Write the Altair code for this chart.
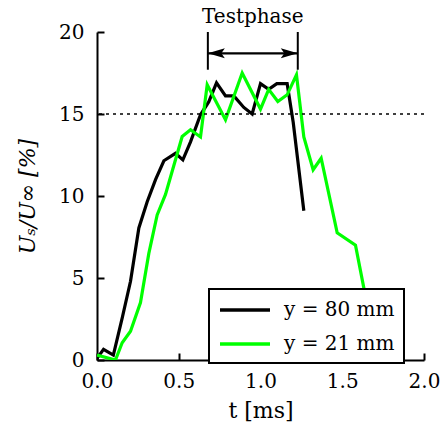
import altair as alt
import pandas as pd

# ---- data ----
black_label = "y = 80 mm"
green_label = "y = 21 mm"

black_t = [0.0, 0.04, 0.10, 0.155, 0.205, 0.256, 0.307, 0.358, 0.409, 0.48, 0.525,
           0.572, 0.633, 0.684, 0.731, 0.786, 0.837, 0.898, 0.949, 1.0, 1.05, 1.10,
           1.163, 1.20, 1.265]
black_u = [0.1, 0.65, 0.3, 2.6, 4.8, 8.05, 9.65, 11.0, 12.15, 12.6, 12.2,
           13.3, 14.95, 15.75, 16.9, 16.1, 16.1, 15.4, 15.0, 16.85, 16.5, 16.85,
           16.85, 14.5, 9.1]

green_t = [0.0, 0.113, 0.154, 0.205, 0.266, 0.317, 0.368, 0.419, 0.521, 0.572,
           0.633, 0.674, 0.786, 0.888, 1.0, 1.05, 1.106, 1.163, 1.22, 1.265,
           1.322, 1.371, 1.469, 1.581, 1.632, 1.68, 1.72]
green_u = [0.3, 0.0, 1.05, 1.75, 3.5, 6.5, 8.85, 10.1, 13.63, 14.04,
           13.6, 16.78, 14.65, 17.5, 15.3, 16.5, 15.76, 16.17, 17.39, 13.6,
           11.6, 12.3, 7.75, 7.0, 4.4, 2.0, 0.5]

x_ticks = [0.0, 0.5, 1.0, 1.5, 2.0]
y_ticks = [0, 5, 10, 15, 20]
ref_level = 15
phase_start = 0.678
phase_end = 1.228
phase_label = "Testphase"
phase_arrow_y = 18.7
phase_bar_low = 17.7
phase_bar_high = 20.0
phase_text_y = 20.9

# ---- tables ----
rows = []
for t, u in zip(black_t, black_u):
    rows.append({"t": t, "u": u, "series": black_label})
for t, u in zip(green_t, green_u):
    rows.append({"t": t, "u": u, "series": green_label})
df = pd.DataFrame(rows)

W, H = 327, 328
FONT = "DejaVu Serif"

xscale = alt.Scale(domain=[0, 2], nice=False, zero=False)
yscale = alt.Scale(domain=[0, 20], nice=False, zero=False)

lines = alt.Chart(df).mark_line(strokeWidth=3.2, strokeJoin="miter", clip=True).encode(
    x=alt.X("t:Q", scale=xscale,
            axis=alt.Axis(values=x_ticks, format=".1f", tickSize=0, labelPadding=11,
                          labelFlush=False,
                          title="t [ms]", titleY=57, titleBaseline="alphabetic",
                          titleFontWeight="normal", grid=False)),
    y=alt.Y("u:Q", scale=yscale,
            axis=alt.Axis(values=y_ticks, format="d", tickSize=0, labelPadding=13,
                          labelFlush=False,
                          title="Uₛ/U∞ [%]", titleFontStyle="italic", titleX=-70,
                          titleY=H / 2, titleBaseline="middle", titleAngle=270,
                          titleFontWeight="normal", grid=False)),
    color=alt.Color("series:N",
                    scale=alt.Scale(domain=[black_label, green_label],
                                    range=["#000000", "#00ff00"]),
                    legend=alt.Legend(title=None, orient="none", legendX=112, legendY=257,
                                      symbolType="M-1,0H4", symbolSize=400,
                                      symbolStrokeWidth=3.5, labelOffset=42,
                                      labelFontSize=20, padding=9, rowPadding=12,
                                      fillColor="white", strokeColor="black")),
    order=alt.Order("series_order:Q"),
).transform_calculate(series_order=f"datum.series == '{black_label}' ? 0 : 1")

ref_df = pd.DataFrame({"u": [ref_level]})
ref_rule = alt.Chart(ref_df).mark_rule(color="black", strokeWidth=1.5, strokeDash=[3, 4]).encode(
    y=alt.Y("u:Q", scale=yscale, axis=None)
)

bar_df = pd.DataFrame({"t": [phase_start, phase_end], "lo": [phase_bar_low] * 2,
                       "hi": [phase_bar_high] * 2})
bars = alt.Chart(bar_df).mark_rule(color="black", strokeWidth=2, clip=False).encode(
    x=alt.X("t:Q", scale=xscale, axis=None), y=alt.Y("lo:Q", scale=yscale, axis=None), y2="hi:Q"
)

arrow_df = pd.DataFrame({"t0": [phase_start], "t1": [phase_end], "u": [phase_arrow_y]})
arrow_line = alt.Chart(arrow_df).mark_rule(color="black", strokeWidth=2.2, clip=False).encode(
    x=alt.X("t0:Q", scale=xscale,
            axis=alt.Axis(orient="top", offset=-H, values=x_ticks, labels=False, domain=False,
                          tickSize=7, tickWidth=2, tickColor="black", title=None, grid=False)),
    x2="t1:Q",
    y=alt.Y("u:Q", scale=yscale,
            axis=alt.Axis(orient="right", offset=-W, values=y_ticks, labels=False, domain=False,
                          tickSize=7, tickWidth=2, tickColor="black", title=None, grid=False)),
)

head_l_df = pd.DataFrame({"t": [phase_start], "u": [phase_arrow_y]})
head_r_df = pd.DataFrame({"t": [phase_end], "u": [phase_arrow_y]})
head_l = alt.Chart(head_l_df).mark_point(
    shape="M0,0L1.7,-0.5L1.35,0L1.7,0.5Z", size=400, filled=True, color="black",
    opacity=1, clip=False).encode(
    x=alt.X("t:Q", scale=xscale, axis=None), y=alt.Y("u:Q", scale=yscale, axis=None))
head_r = alt.Chart(head_r_df).mark_point(
    shape="M0,0L-1.7,-0.5L-1.35,0L-1.7,0.5Z", size=400, filled=True, color="black",
    opacity=1, clip=False).encode(
    x=alt.X("t:Q", scale=xscale, axis=None), y=alt.Y("u:Q", scale=yscale, axis=None))

text_df = pd.DataFrame({"t": [(phase_start + phase_end) / 2], "u": [phase_text_y],
                        "label": [phase_label]})
text = alt.Chart(text_df).mark_text(font=FONT, fontSize=20, baseline="middle",
                                    align="center", clip=False).encode(
    x=alt.X("t:Q", scale=xscale, axis=None), y=alt.Y("u:Q", scale=yscale, axis=None),
    text="label:N")

chart = alt.layer(lines, ref_rule, bars, arrow_line, head_l, head_r, text).resolve_axis(
    x="independent", y="independent"
).properties(
    width=W, height=H,
    autosize=alt.AutoSizeParams(type="none"),
    padding={"left": 97, "top": 32, "right": 16, "bottom": 66},
).configure_view(stroke=None).configure_axis(
    labelFont=FONT, titleFont=FONT, labelFontSize=20, titleFontSize=22,
    labelColor="black", titleColor="black", domainColor="black", domainWidth=2,
).configure_legend(
    labelFont=FONT, strokeWidth=2, labelColor="black"
)

chart.save("out.html", embed_options={"renderer": "svg", "actions": False})
